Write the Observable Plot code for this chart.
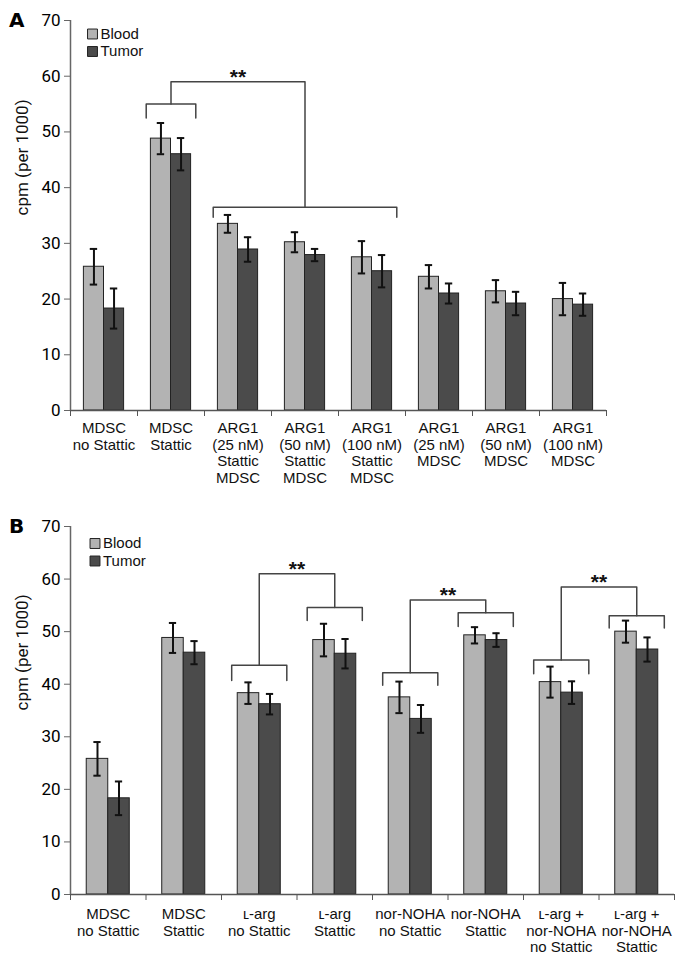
<!DOCTYPE html>
<html>
<head>
<meta charset="utf-8">
<script src="https://cdn.jsdelivr.net/npm/d3@7"></script>
<script src="https://cdn.jsdelivr.net/npm/@observablehq/plot@0.6"></script>
<style>
  body { margin: 0; background: #fff; }
  #wrap { position: relative; width: 686px; height: 970px; font-family: "Liberation Sans", Arial, sans-serif; }
  .panel-letter { position: absolute; font-family: "DejaVu Sans", "Liberation Sans", Arial, sans-serif; font-weight: bold; font-size: 20px; line-height: 1; }
  svg { display: block; }
</style>
</head>
<body>
<div id="wrap">
  <div id="chartA"></div>
  <div id="chartB"></div>
  <div class="panel-letter" style="left:9px; top:10px;">A</div>
  <div class="panel-letter" style="left:9px; top:516px;">B</div>
</div>
<script>
// ---------- Data ----------
const seriesNames = ["Blood", "Tumor"];
const yTicks = [0, 10, 20, 30, 40, 50, 60, 70];

const groupsA = [
  "MDSC\nno Stattic", "MDSC\nStattic",
  "ARG1\n(25 nM)\nStattic\nMDSC", "ARG1\n(50 nM)\nStattic\nMDSC", "ARG1\n(100 nM)\nStattic\nMDSC",
  "ARG1\n(25 nM)\nMDSC", "ARG1\n(50 nM)\nMDSC", "ARG1\n(100 nM)\nMDSC"
];
const bloodA    = [25.8, 48.8, 33.5, 30.2, 27.5, 24.0, 21.4, 20.0];
const bloodErrA = [3.2, 2.8, 1.6, 1.8, 2.9, 2.1, 2.0, 2.9];
const tumorA    = [18.3, 46.0, 28.9, 27.9, 25.0, 21.0, 19.2, 19.0];
const tumorErrA = [3.6, 2.9, 2.2, 1.1, 2.9, 1.8, 2.1, 2.0];
// significance brackets: group span, bracket level, leg end
const bracketsA = [
  {first: 1, last: 1, level: 55, leg: 52.5},
  {first: 2, last: 4, level: 36.5, leg: 34.7}
];
const connectorsA = [{from: 0, to: 1, level: 59, label: "**"}];

const groupsB = [
  "MDSC\nno Stattic", "MDSC\nStattic", "ʟ-arg\nno Stattic", "ʟ-arg\nStattic",
  "nor-NOHA\nno Stattic", "nor-NOHA\nStattic", "ʟ-arg +\nnor-NOHA\nno Stattic", "ʟ-arg +\nnor-NOHA\nStattic"
];
const bloodB    = [25.8, 48.8, 38.3, 48.4, 37.5, 49.3, 40.4, 50.0];
const bloodErrB = [3.2, 2.85, 2.05, 3.1, 3.0, 1.55, 2.95, 2.1];
const tumorB    = [18.3, 46.0, 36.2, 45.8, 33.4, 48.4, 38.4, 46.6];
const tumorErrB = [3.2, 2.2, 1.95, 2.8, 2.65, 1.3, 2.15, 2.3];
const bracketsB = [
  {first: 2, last: 2, level: 43.6, leg: 40.7},
  {first: 3, last: 3, level: 54.6, leg: 52.1},
  {first: 4, last: 4, level: 42.2, leg: 39.8},
  {first: 5, last: 5, level: 53.6, leg: 51.0},
  {first: 6, last: 6, level: 44.6, leg: 42.0},
  {first: 7, last: 7, level: 53.0, leg: 50.7}
];
const connectorsB = [
  {from: 0, to: 1, level: 61, label: "**"},
  {from: 2, to: 3, level: 56, label: "**"},
  {from: 4, to: 5, level: 58.5, label: "**"}
];

const colors = {Blood: "#b3b3b3", Tumor: "#4b4b4b"};

// ---------- Chart builder ----------
function panel(cfg) {
  const {groups, blood, bloodErr, tumor, tumorErr, brackets, connectors,
         height, marginTop, marginBottom, marginRight, barHalf, bracketHalf, capHalf,
         labelDy, legendDx, legendDy} = cfg;
  const bars = [];
  groups.forEach((g, i) => {
    bars.push({series: "Blood", g: i, x1: i + 0.5 - barHalf, x2: i + 0.5, value: blood[i], err: bloodErr[i]});
    bars.push({series: "Tumor", g: i, x1: i + 0.5, x2: i + 0.5 + barHalf, value: tumor[i], err: tumorErr[i]});
  });
  bars.forEach(d => d.cx = (d.x1 + d.x2) / 2);

  const bx = b => [b.first + 0.5 - bracketHalf, b.last + 0.5 + bracketHalf];
  const paths = [];
  brackets.forEach((b, k) => {
    const [a, c] = bx(b);
    paths.push({k: "b" + k, x: a, y: b.leg}, {k: "b" + k, x: a, y: b.level},
               {k: "b" + k, x: c, y: b.level}, {k: "b" + k, x: c, y: b.leg});
  });
  const stars = [];
  connectors.forEach((c, k) => {
    const L = brackets[c.from], R = brackets[c.to];
    const lx = d3.mean(bx(L)), rx = d3.mean(bx(R));
    paths.push({k: "c" + k, x: lx, y: L.level}, {k: "c" + k, x: lx, y: c.level},
               {k: "c" + k, x: rx, y: c.level}, {k: "c" + k, x: rx, y: R.level});
    stars.push({x: (lx + rx) / 2, y: c.level, label: c.label});
  });

  return Plot.plot({
    width: 686,
    height,
    marginLeft: 70,
    marginRight,
    marginTop,
    marginBottom,
    style: {fontFamily: "'Liberation Sans', Arial, sans-serif", background: "white", overflow: "visible"},
    x: {type: "linear", domain: [0, groups.length], axis: null},
    y: {domain: [0, 70], axis: null},
    marks: [
      Plot.axisY({ticks: yTicks, tickSize: 6, tickPadding: 4, stroke: "#666", fontSize: 17,
                  fontFamily: "Roboto, 'Noto Sans', sans-serif", label: null, tickFormat: d => d}),
      Plot.axisX({ticks: d3.range(groups.length + 1), tickSize: 6, stroke: "#555", tickFormat: () => "", label: null}),
      Plot.rectY(bars, {x1: "x1", x2: "x2", y1: 0, y2: "value", fill: d => colors[d.series],
                        stroke: "#222", strokeWidth: 1}),
      Plot.ruleX(bars, {x: "cx", y1: d => d.value - d.err, y2: d => d.value + d.err, stroke: "#111", strokeWidth: 2}),
      Plot.ruleY(bars, {y: d => d.value + d.err, x1: d => d.cx - capHalf, x2: d => d.cx + capHalf, stroke: "#111", strokeWidth: 2}),
      Plot.ruleY(bars, {y: d => d.value - d.err, x1: d => d.cx - capHalf, x2: d => d.cx + capHalf, stroke: "#111", strokeWidth: 2}),
      Plot.ruleY([0], {stroke: "#555", strokeWidth: 1.5}),
      Plot.ruleX([0], {stroke: "#666", strokeWidth: 1.5}),
      Plot.line(paths, {x: "x", y: "y", z: "k", stroke: "#444", strokeWidth: 1.5}),
      Plot.text(stars, {x: "x", y: "y", text: "label", dy: -5, fontSize: 21, fontWeight: "bold", fill: "#111"}),
      Plot.text(groups, {x: (d, i) => i + 0.5, y: 0, text: d => d, dy: labelDy, lineAnchor: "top",
                         lineHeight: 1.1, fontSize: 15, fill: "#111"}),
      Plot.text(["cpm (per 1000)"], {frameAnchor: "left", rotate: -90, dx: -48, fontSize: 17,
                                     fontFamily: "Roboto, 'Noto Sans', sans-serif", fill: "#111"}),
      ...seriesNames.map((s, i) => Plot.dot([s], {frameAnchor: "top-left", dx: legendDx, dy: legendDy + i * 17.5,
                                     symbol: "square", r: 5.6, fill: colors[s], stroke: "#222", strokeWidth: 1})),
      ...seriesNames.map((s, i) => Plot.text([s], {frameAnchor: "top-left", dx: legendDx + 8, dy: legendDy + i * 17.5,
                                     text: d => d, textAnchor: "start", lineAnchor: "middle", fontSize: 15, fill: "#111"}))
    ]
  });
}

document.getElementById("chartA").append(panel({
  groups: groupsA, blood: bloodA, bloodErr: bloodErrA, tumor: tumorA, tumorErr: tumorErrA,
  brackets: bracketsA, connectors: connectorsA,
  height: 490, marginTop: 20, marginBottom: 80, marginRight: 80,
  barHalf: 0.3, bracketHalf: 0.37, capHalf: 0.055, labelDy: 11,
  legendDx: 22, legendDy: 13.5
}));

document.getElementById("chartB").append(panel({
  groups: groupsB, blood: bloodB, bloodErr: bloodErrB, tumor: tumorB, tumorErr: tumorErrB,
  brackets: bracketsB, connectors: connectorsB,
  height: 480, marginTop: 36, marginBottom: 76, marginRight: 12,
  barHalf: 0.285, bracketHalf: 0.365, capHalf: 0.048, labelDy: 13,
  legendDx: 24.5, legendDy: 17
}));
</script>
</body>
</html>
